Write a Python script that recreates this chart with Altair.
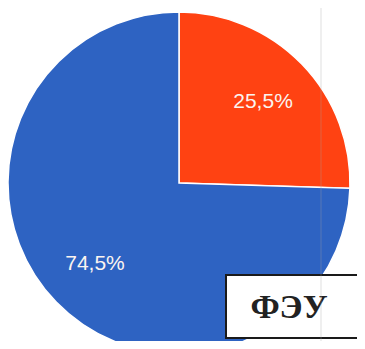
import altair as alt
import pandas as pd

# Data
slice_names = ["Сегмент 1", "Сегмент 2"]
shares = [25.5, 74.5]
labels = ["25,5%", "74,5%"]
order = [1, 2]
colors = ["#FF4212", "#2E63C2"]
badge_text = ["ФЭУ"]

df = pd.DataFrame({"name": slice_names, "share": shares, "label": labels, "order": order})

cx, cy, R = 171, 175, 171

base = alt.Chart(df).encode(
    theta=alt.Theta("share:Q", stack=True),
    order=alt.Order("order:Q"),
)

pie = base.mark_arc(stroke="white", strokeWidth=1.5).encode(
    x=alt.value(cx), y=alt.value(cy), radius=alt.value(R),
    color=alt.Color("name:N", scale=alt.Scale(domain=slice_names, range=colors), legend=None),
)

txt = base.mark_text(radius=117, font="Liberation Sans", fontSize=21, color="#FBF4F0").encode(
    x=alt.value(cx), y=alt.value(cy), text="label:N",
)

badge_df = pd.DataFrame({"t": badge_text})
box = alt.Chart(badge_df).mark_rect(fill="white").encode(
    x=alt.value(218), x2=alt.value(349), y=alt.value(267), y2=alt.value(330)
)
top = alt.Chart(badge_df).mark_rule(color="#1a1a1a", strokeWidth=2).encode(
    x=alt.value(217), x2=alt.value(349), y=alt.value(267)
)
bottom = alt.Chart(badge_df).mark_rule(color="#1a1a1a", strokeWidth=2).encode(
    x=alt.value(217), x2=alt.value(349), y=alt.value(330)
)
left = alt.Chart(badge_df).mark_rule(color="#1a1a1a", strokeWidth=2).encode(
    x=alt.value(218), y=alt.value(266), y2=alt.value(331)
)
mask = alt.Chart(badge_df).mark_rule(color="white", strokeWidth=4).encode(
    x=alt.value(348), y=alt.value(268), y2=alt.value(329)
)
btxt = alt.Chart(badge_df).mark_text(
    font="Liberation Serif", fontWeight="bold", fontSize=34, color="#222222", align="center", baseline="middle"
).encode(x=alt.value(281), y=alt.value(300), text="t:N")

streak = alt.Chart(badge_df).mark_rule(color="#a0a0a0", opacity=0.35, strokeWidth=1).encode(
    x=alt.value(313), y=alt.value(0), y2=alt.value(333)
)

chart = alt.layer(pie, txt, box, top, bottom, left, mask, btxt, streak).properties(
    width=349, height=333, padding=0, autosize="none", background="white"
).configure_view(stroke=None)

chart.save("out.html", embed_options={"renderer": "svg", "actions": False})
